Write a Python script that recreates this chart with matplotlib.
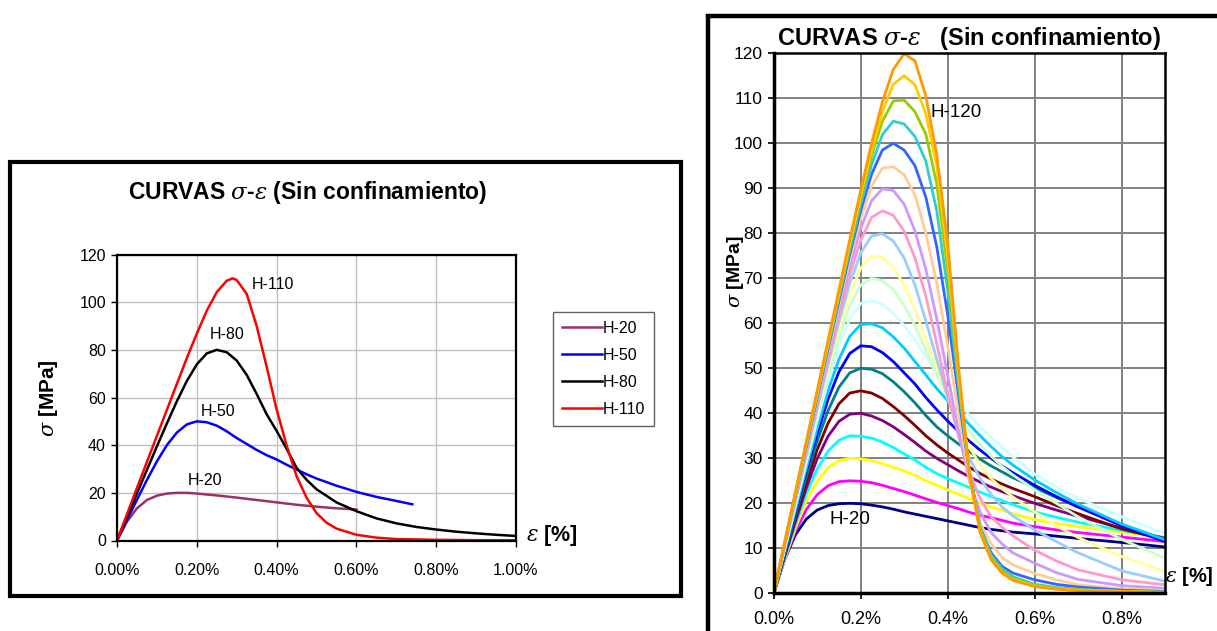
import matplotlib
matplotlib.use("Agg")
import matplotlib.pyplot as plt
from matplotlib.patches import Rectangle

plt.rcParams['font.family'] = ['Liberation Sans', 'DejaVu Sans']
plt.rcParams['mathtext.fontset'] = 'dejavuserif'

# ---- left chart: 4 curves, each with its own strain list (strain in %, stress in MPa)
l_h20_x = [0, 0.025, 0.05, 0.075, 0.1, 0.125, 0.15, 0.175, 0.2, 0.25, 0.3, 0.35, 0.4, 0.45, 0.5, 0.55, 0.6]
l_h20_y = [0, 7.9, 13.5, 17.0, 18.8, 19.7, 20.0, 20.0, 19.7, 18.9, 18.0, 17.0, 16.0, 15.0, 14.2, 13.5, 13.0]

l_h50_x = [0, 0.025, 0.05, 0.075, 0.1, 0.125, 0.15, 0.175, 0.2, 0.225, 0.25, 0.275, 0.3, 0.325,
           0.35, 0.375, 0.4, 0.425, 0.45, 0.475, 0.5, 0.55, 0.6, 0.65, 0.7, 0.74]
l_h50_y = [0, 8.6, 17.1, 25.4, 33.2, 40.0, 45.3, 48.7, 50.0, 49.6, 48.2, 45.8, 43.0, 40.5,
           38.0, 35.8, 34.0, 31.8, 29.8, 27.8, 26.0, 23.0, 20.4, 18.3, 16.6, 15.2]

l_h80_x = [0, 0.025, 0.05, 0.075, 0.1, 0.125, 0.15, 0.175, 0.2, 0.225, 0.25, 0.275, 0.3, 0.325,
           0.35, 0.375, 0.4, 0.425, 0.45, 0.475, 0.5, 0.55, 0.6, 0.65, 0.7, 0.75, 0.8, 0.85,
           0.9, 0.95, 1.0]
l_h80_y = [0, 9.9, 19.8, 29.6, 39.5, 49.1, 58.4, 66.9, 73.9, 78.5, 80.0, 79.0, 75.5, 69.5,
           61.5, 53.0, 46.0, 38.5, 30.5, 25.5, 21.5, 16.0, 12.3, 9.3, 7.2, 5.7, 4.6, 3.7,
           3.0, 2.4, 1.9]

l_h110_x = [0, 0.025, 0.05, 0.075, 0.1, 0.125, 0.15, 0.175, 0.2, 0.225, 0.25, 0.275, 0.29, 0.3,
            0.325, 0.35, 0.375, 0.4, 0.425, 0.45, 0.475, 0.5, 0.525, 0.55, 0.6, 0.65, 0.7,
            0.8, 0.9, 1.0]
l_h110_y = [0, 11.0, 22.0, 33.0, 43.9, 54.8, 65.7, 76.5, 86.8, 96.4, 104.2, 109.0, 110.0, 109.3,
            103.5, 90.0, 73.0, 55.0, 40.0, 27.0, 18.0, 11.5, 7.5, 5.0, 2.4, 1.2, 0.6,
            0.3, 0.15, 0.1]

left_names = ["H-20", "H-50", "H-80", "H-110"]
left_colors = ["#993366", "#0000FF", "#000000", "#FF0000"]
left_label_pos = [(0.22, 25.1), (0.253, 54.3), (0.276, 86.4), (0.392, 107.4)]

# ---- right chart: 21 curves on one strain grid
strain_r = [0, 0.025, 0.05, 0.075, 0.1, 0.125, 0.15, 0.175, 0.2, 0.225, 0.25, 0.275, 0.3,
            0.325, 0.35, 0.375, 0.4, 0.425, 0.45, 0.475, 0.5, 0.525, 0.55, 0.6, 0.65, 0.7,
            0.8, 0.9]

h20 = [0, 7.5, 13.0, 16.5, 18.5, 19.5, 19.9, 20.0, 19.9, 19.6, 19.2, 18.7, 18.1, 17.6, 17.1,
       16.6, 16.1, 15.6, 15.1, 14.6, 14.2, 13.9, 13.6, 13.2, 12.7, 12.2, 11.3, 10.3]
h25 = [0, 7.4, 13.8, 18.6, 21.9, 23.9, 24.8, 25.0, 24.9, 24.6, 24.0, 23.3, 22.6, 21.8, 21.0,
       20.2, 19.5, 18.8, 18.0, 17.3, 16.8, 16.2, 15.6, 14.8, 14.1, 13.5, 12.5, 11.5]
h30 = [0, 7.5, 14.5, 20.5, 24.9, 27.9, 29.5, 30.0, 29.9, 29.5, 28.8, 28.0, 27.2, 26.2, 25.0,
       24.0, 23.0, 22.0, 21.0, 20.0, 19.2, 18.5, 17.7, 16.4, 15.5, 14.8, 13.6, 12.4]
h35 = [0, 7.8, 15.3, 22.1, 27.6, 31.6, 34.0, 35.0, 34.9, 34.5, 33.6, 32.4, 31.0, 29.6, 28.0,
       26.6, 25.5, 24.5, 23.5, 22.5, 21.5, 20.6, 19.7, 18.1, 16.9, 15.8, 14.0, 12.4]
h40 = [0, 8.1, 16.0, 23.4, 29.9, 34.9, 38.2, 39.8, 40.0, 39.4, 38.4, 37.0, 35.3, 33.5, 31.6,
       30.0, 28.6, 27.2, 25.9, 24.7, 23.6, 22.6, 21.7, 20.0, 18.5, 17.1, 14.5, 12.2]
h45 = [0, 8.4, 16.7, 24.6, 31.9, 37.8, 42.1, 44.5, 45.0, 44.5, 43.3, 41.5, 39.5, 37.3, 35.0,
       33.0, 31.2, 29.6, 28.0, 26.6, 25.4, 24.3, 23.3, 21.5, 19.5, 17.7, 14.3, 11.9]
h50 = [0, 8.7, 17.4, 25.9, 33.8, 40.6, 45.8, 49.0, 50.0, 49.8, 48.8, 47.0, 44.8, 42.3, 39.5,
       37.0, 35.0, 33.2, 31.5, 29.8, 28.3, 27.0, 25.7, 23.5, 21.3, 19.2, 15.3, 11.9]
h55 = [0, 9.1, 18.1, 27.0, 35.5, 43.1, 49.2, 53.3, 55.0, 54.8, 53.5, 51.5, 49.0, 46.5, 43.5,
       40.8, 38.3, 36.0, 33.8, 31.8, 30.0, 28.3, 26.8, 24.0, 21.5, 19.2, 15.0, 11.5]
h60 = [0, 9.3, 18.6, 27.8, 36.7, 45.0, 52.0, 57.1, 59.7, 59.9, 59.0, 57.0, 54.5, 51.5, 48.5,
       45.5, 42.8, 40.2, 37.5, 35.0, 32.6, 30.4, 28.5, 25.2, 22.4, 19.8, 15.4, 11.9]
h65 = [0, 9.7, 19.4, 29.0, 38.4, 47.3, 55.0, 61.0, 64.4, 65.0, 64.2, 62.3, 59.5, 56.2, 52.6,
       49.0, 45.6, 42.5, 39.6, 37.0, 34.7, 32.5, 30.3, 26.5, 23.6, 21.1, 17.0, 13.3]
h70 = [0, 9.9, 19.7, 29.6, 39.3, 48.6, 57.0, 63.9, 68.5, 70.0, 69.5, 67.5, 64.0, 59.5, 54.0,
       48.5, 43.5, 39.5, 36.0, 33.0, 30.5, 28.2, 26.3, 23.0, 20.0, 17.0, 12.0, 7.8]
h75 = [0, 10.0, 20.1, 30.1, 40.0, 49.7, 58.7, 66.5, 72.2, 74.9, 74.6, 72.5, 68.5, 63.0, 56.5,
       50.0, 43.5, 37.5, 32.5, 28.5, 25.5, 23.3, 21.4, 18.1, 15.0, 12.4, 8.2, 4.8]
h80 = [0, 10.3, 20.5, 30.7, 40.9, 50.9, 60.4, 68.9, 75.6, 79.4, 79.9, 78.3, 74.5, 68.5, 60.5,
       52.0, 43.5, 36.0, 30.0, 25.5, 22.0, 19.2, 17.2, 14.1, 11.5, 9.0, 5.0, 2.7]
h85 = [0, 10.4, 20.8, 31.2, 41.6, 51.8, 61.7, 70.8, 78.4, 83.5, 85.0, 84.0, 80.5, 74.5, 66.0,
       55.5, 44.5, 35.0, 27.0, 21.0, 17.0, 14.7, 12.8, 9.6, 7.2, 5.2, 3.0, 1.9]
h90 = [0, 10.6, 21.2, 31.8, 42.4, 52.9, 63.1, 72.7, 81.1, 87.2, 89.9, 89.5, 86.5, 80.5, 72.0,
       61.0, 48.5, 36.0, 25.0, 18.0, 13.5, 11.0, 9.0, 6.7, 4.6, 3.1, 1.7, 1.1]
h95 = [0, 10.7, 21.5, 32.2, 43.0, 53.6, 64.1, 74.2, 83.2, 90.4, 94.5, 94.8, 93.0, 88.5, 80.0,
       69.0, 55.0, 40.0, 25.5, 15.5, 11.0, 8.0, 6.3, 4.4, 3.0, 1.9, 1.0, 0.6]
h100 = [0, 10.9, 21.8, 32.6, 43.5, 54.3, 65.0, 75.4, 85.0, 93.1, 98.5, 100.0, 98.5, 95.0, 88.0,
        77.0, 62.0, 44.0, 27.0, 14.5, 9.0, 6.0, 4.5, 3.0, 2.0, 1.4, 0.7, 0.4]
h105 = [0, 11.0, 21.9, 32.9, 43.9, 54.8, 65.7, 76.3, 86.4, 95.2, 101.9, 104.9, 104.3, 101.5, 96.0,
        85.0, 67.5, 46.0, 27.0, 14.5, 8.5, 5.5, 3.7, 2.0, 1.3, 0.9, 0.45, 0.3]
h110 = [0, 11.1, 22.2, 33.3, 44.4, 55.4, 66.4, 77.3, 87.7, 97.2, 104.9, 109.4, 109.6, 107.0, 102.0,
        91.0, 72.0, 48.0, 27.0, 14.0, 8.0, 5.0, 3.3, 1.8, 1.1, 0.8, 0.4, 0.25]
h115 = [0, 11.1, 22.3, 33.4, 44.5, 55.6, 66.7, 77.7, 88.4, 98.4, 107.0, 113.1, 115.0, 113.0, 106.5,
        95.0, 75.0, 49.0, 26.5, 13.5, 7.5, 4.6, 3.0, 1.6, 1.0, 0.7, 0.4, 0.2]
h120 = [0, 11.2, 22.5, 33.7, 45.0, 56.2, 67.4, 78.6, 89.5, 99.9, 109.2, 116.4, 119.9, 118.3, 110.5,
        97.5, 78.0, 50.5, 26.5, 13.5, 7.5, 4.5, 2.9, 1.5, 0.9, 0.6, 0.3, 0.2]

right_series = [h20, h25, h30, h35, h40, h45, h50, h55, h60, h65, h70,
                h75, h80, h85, h90, h95, h100, h105, h110, h115, h120]
# excel default line colours, in series order
right_colors = ["#000080", "#FF00FF", "#FFFF00", "#00FFFF", "#800080", "#800000", "#008080",
                "#0000FF", "#00CCFF", "#CCFFFF", "#CCFFCC", "#FFFF99", "#99CCFF", "#FF99CC",
                "#CC99FF", "#FFCC99", "#3366FF", "#33CCCC", "#99CC00", "#FFCC00", "#FF9900"]

W, H = 1217, 631
fig = plt.figure(figsize=(W / 100, H / 100), dpi=100)


def fx(px):
    return px / W


def fy(py):
    return 1 - py / H


# panel frames
fig.patches.append(Rectangle((fx(10), fy(596)), fx(681) - fx(10), fy(162) - fy(596),
                             transform=fig.transFigure, fill=False, lw=3, ec="black"))
fig.patches.append(Rectangle((fx(708), fy(700)), fx(1240) - fx(708), fy(16) - fy(700),
                             transform=fig.transFigure, fill=False, lw=3.2, ec="black"))

# ---------------- left chart
ax1 = fig.add_axes([fx(117), fy(540.5), fx(516) - fx(117), fy(254.5) - fy(540.5)])
curves_l = [(l_h20_x, l_h20_y), (l_h50_x, l_h50_y), (l_h80_x, l_h80_y), (l_h110_x, l_h110_y)]
for (xs, ys), c, name in zip(curves_l, left_colors, left_names):
    ax1.plot(xs, ys, color=c, lw=1.8, label=name, solid_joinstyle="round")
for name, (tx, ty) in zip(left_names, left_label_pos):
    ax1.text(tx, ty, name, fontsize=11.5, ha="center", va="center")

ax1.set_xlim(0, 1.0)
ax1.set_ylim(0, 120)
ax1.set_xticks([0, 0.2, 0.4, 0.6, 0.8, 1.0])
ax1.set_xticklabels([f"{v:.2f}%" for v in [0, 0.2, 0.4, 0.6, 0.8, 1.0]])
ax1.set_yticks(range(0, 121, 20))
ax1.tick_params(axis="both", direction="out", length=4, width=1, labelsize=11.5)
ax1.tick_params(axis="x", pad=12)
ax1.tick_params(axis="y", pad=4)
ax1.grid(True, color="#c0c0c0", lw=1)
ax1.set_axisbelow(True)
for s in ax1.spines.values():
    s.set_linewidth(1.6)

leg = ax1.legend(loc="upper left", bbox_to_anchor=(fx(553), fy(312)), bbox_transform=fig.transFigure,
                 fancybox=False, edgecolor="#606060", borderaxespad=0, handlelength=2.5,
                 handletextpad=0.05, labelspacing=0.75, fontsize=11.5, borderpad=0.55, framealpha=1)
leg.get_frame().set_linewidth(1)

fig.text(fx(308), fy(193), r"CURVAS $\sigma$-$\varepsilon$ (Sin confinamiento)",
         fontsize=16.5, fontweight="bold", ha="center", va="center")
fig.text(fx(48), fy(398), r"$\sigma$ [MPa]", fontsize=15, fontweight="bold",
         rotation=90, ha="center", va="center")
fig.text(fx(526), fy(536), r"$\varepsilon$ [%]", fontsize=15.5, fontweight="bold",
         ha="left", va="center")

# ---------------- right chart
ax2 = fig.add_axes([fx(773.7), fy(593.3), fx(1165) - fx(773.7), fy(53.3) - fy(593.3)])
for ys, c in zip(right_series, right_colors):
    ax2.plot(strain_r, ys, color=c, lw=2.0, solid_joinstyle="round")
ax2.text(0.42, 106.8, "H-120", fontsize=13.5, ha="center", va="center", zorder=1.5)
ax2.text(0.175, 16.3, "H-20", fontsize=13.5, ha="center", va="center", zorder=1.5)

ax2.set_xlim(0, 0.9)
ax2.set_ylim(0, 120)
ax2.set_xticks([0, 0.2, 0.4, 0.6, 0.8])
ax2.set_xticklabels([f"{v:.1f}%" for v in [0, 0.2, 0.4, 0.6, 0.8]])
ax2.set_yticks(range(0, 121, 10))
ax2.tick_params(axis="both", direction="out", length=4, width=1.2, labelsize=12.5)
ax2.tick_params(axis="x", pad=9, labelsize=13)
ax2.tick_params(axis="y", pad=4)
ax2.grid(True, color="#808080", lw=1.4)
ax2.set_axisbelow(True)
ax2.spines["left"].set_linewidth(2.5)
ax2.spines["bottom"].set_linewidth(2.5)
ax2.spines["top"].set_linewidth(1.8)
ax2.spines["right"].set_linewidth(1.8)

fig.text(fx(969), fy(38), r"CURVAS $\sigma$-$\varepsilon$   (Sin confinamiento)",
         fontsize=17, fontweight="bold", ha="center", va="center")
fig.text(fx(735), fy(272), r"$\sigma$ [MPa]", fontsize=14, fontweight="bold",
         rotation=90, ha="center", va="center")
fig.text(fx(1165), fy(577), r"$\varepsilon$ [%]", fontsize=14.5, fontweight="bold",
         ha="left", va="center")

fig.savefig("out.png", dpi=100)
